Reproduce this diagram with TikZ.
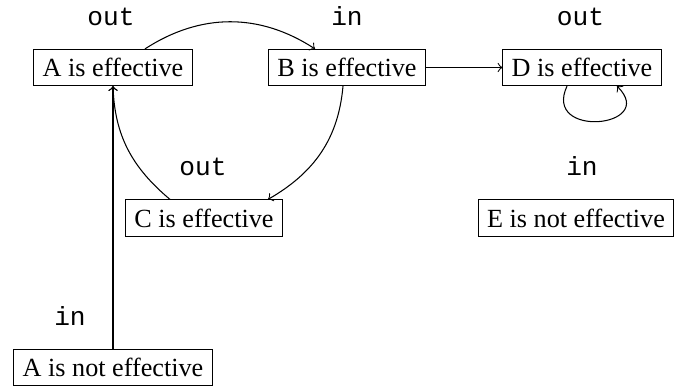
\documentclass[tikz,border=0pt]{standalone}
\usepackage{fontspec}
\setmainfont{Liberation Serif}
\setmonofont{Liberation Mono}
\usetikzlibrary{calc}
\begin{document}
\begin{tikzpicture}[x=0.3817pt,y=0.3817pt,
  state/.style={draw, font=\rmfamily, inner sep=3.33pt},
  lab/.style={font=\ttfamily, anchor=base, inner sep=0pt},
  arr/.style={->}]
\useasboundingbox (0,0) rectangle (688,387);
\node[state] (A) at (113,319.5) {A is effective};
\node[state] (B) at (347,319.5) {B is effective};
\node[state] (D) at (582,319.5) {D is effective};
\node[state] (C) at (204,169) {C is effective};
\node[state] (E) at (576,169) {E is not effective};
\node[state] (N) at (113,19.5) {A is not effective};
\node[lab] (lA) at (111,362) {out};
\node[lab] (lB) at (347,362) {in};
\node[lab] (lD) at (580.5,362) {out};
\node[lab] (lC) at (203,212) {out};
\node[lab] (lE) at (582,212) {in};
\node[lab] (lN) at (70,62) {in};
\draw[arr] ($(A.north)+(32,0)$) to[out=33,in=147] ($(B.north)+(-32,0)$);
\draw[arr] ($(B.south)+(-4,0)$) to[out=-95,in=30] ($(C.north)+(64,0)$);
\draw[arr] ($(C.north)+(-34,0)$) to[out=140,in=-88] (A.south);
\draw[arr] (N.north) -- (A.south);
\draw[arr] (B.east) -- (D.west);
\draw[arr] ($(D.south)+(-15,0)$) to[out=-115,in=-45,looseness=3] ($(D.south)+(35,0)$);
\end{tikzpicture}
\end{document}
